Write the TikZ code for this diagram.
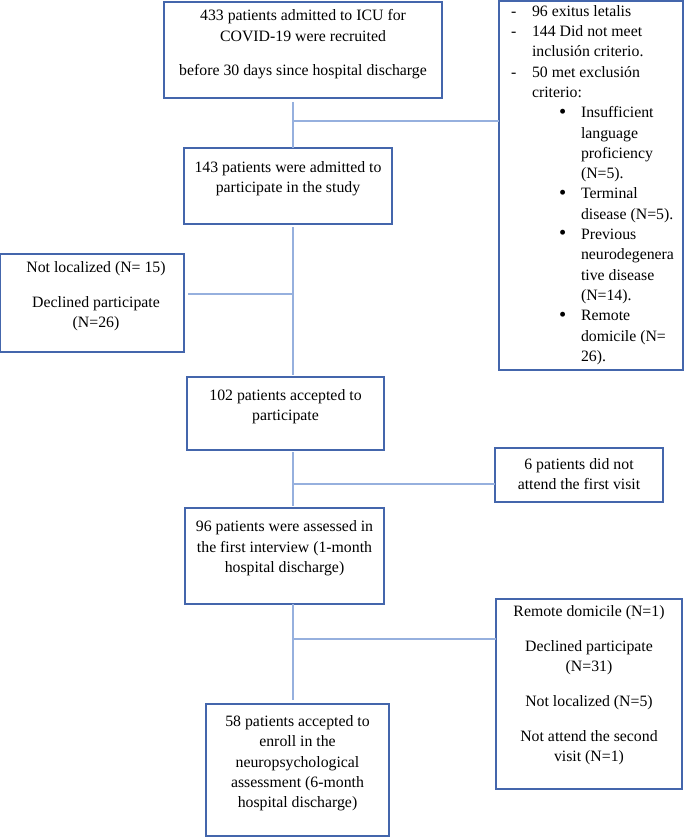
\documentclass[tikz,border=0pt]{standalone}
\usepackage{fontspec}
\setmainfont{Liberation Serif}
\usepackage{graphicx}
\usepackage{tikz}
\usetikzlibrary{calc, fit, positioning}

\definecolor{boxblue}{RGB}{68,102,172}
\definecolor{lineblue}{RGB}{150,176,222}

\newcommand{\itemdot}{\makebox[22pt][l]{\raisebox{-0.4pt}{\scalebox{1.3}{\textbullet}}}}

\begin{document}
\begin{tikzpicture}[x=1pt, y=-1pt, font=\fontsize{15.8}{20.3}\selectfont]
\tikzset{every node/.style={inner sep=0mm, outer sep=0mm}}

\tikzstyle{box}=[draw=boxblue, line width=1.2pt, rectangle]
\tikzstyle{txt}=[align=center]
\tikzstyle{link}=[draw=lineblue, line width=1.1pt]

\useasboundingbox (0,0) rectangle (685,837);

% main column
\node[box, fit={(164,2) (442,98)}] (start) {};
\node[txt] (start text) at (303,44.5) {433 patients admitted to ICU for\\COVID-19 were recruited\\[14.5pt]before 30 days since hospital discharge};

\node[box, fit={(184,148) (392,224)}] (admit) {};
\node[txt] (admit text) at (288,178.5) {143 patients were admitted to\\participate in the study};

\node[box, fit={(187,377) (384,450)}] (accept) {};
\node[txt] (accept text) at (285.5,407) {102 patients accepted to\\participate};

\node[box, fit={(185,508) (384,604)}] (assess) {};
\node[txt] (assess text) at (284.5,548.5) {96 patients were assessed in\\the first interview (1-month\\hospital discharge)};

\node[box, fit={(206,704) (389,836)}] (enroll) {};
\node[txt] (enroll text) at (297.5,763.5) {58 patients accepted to\\enroll in the\\neuropsychological\\assessment (6-month\\hospital discharge)};

% side boxes
\node[box, fit={(499,1) (683,370)}] (excl) {};
\node[align=left, anchor=west] (excl text) at (511,185) {%
\makebox[21pt][l]{-}96 exitus letalis\\
\makebox[21pt][l]{-}144 Did not meet\\
\hspace*{21pt}inclusión criterio.\\
\makebox[21pt][l]{-}50 met exclusión\\
\hspace*{21pt}criterio:\\
\hspace*{48pt}\itemdot Insufficient\\
\hspace*{70pt}language\\
\hspace*{70pt}proficiency\\
\hspace*{70pt}(N=5).\\
\hspace*{48pt}\itemdot Terminal\\
\hspace*{70pt}disease (N=5).\\
\hspace*{48pt}\itemdot Previous\\
\hspace*{70pt}neurodegenera\\
\hspace*{70pt}tive disease\\
\hspace*{70pt}(N=14).\\
\hspace*{48pt}\itemdot Remote\\
\hspace*{70pt}domicile (N=\\
\hspace*{70pt}26).};

\node[box, fit={(0.8,254) (184,352)}] (lost) {};
\node[txt] (lost text) at (96,296) {Not localized (N= 15)\\[14.5pt]Declined participate\\(N=26)};

\node[box, fit={(495,448) (663,502)}] (nofirst) {};
\node[txt] (nofirst text) at (579,474) {6 patients did not\\attend the first visit};

\node[box, fit={(496,599) (682,789)}] (drop) {};
\node[txt] (drop text) at (589,685.5) {Remote domicile (N=1)\\[14.5pt]Declined participate\\(N=31)\\[14.5pt]Not localized (N=5)\\[14.5pt]Not attend the second\\visit (N=1)};

% trunk and junctions
\coordinate (trunk) at (293,0);
\coordinate (j1) at (293,121);
\coordinate (j2) at (293,294);
\coordinate (j3) at (293,484);
\coordinate (j4) at (293,639);

\path[link, shorten <=4pt] (start.south -| trunk) edge (admit.north -| trunk);
\path[link, shorten <=3pt, shorten >=2pt] (admit.south -| trunk) edge (accept.north -| trunk);
\path[link, shorten <=2pt, shorten >=2pt] (accept.south -| trunk) edge (assess.north -| trunk);
\path[link, shorten >=4pt] (assess.south -| trunk) edge (enroll.north -| trunk);

\path[link] (j1) edge (excl.west |- j1);
\path[link, shorten >=4pt] (j2) edge (lost.east |- j2);
\path[link] (j3) edge (nofirst.west |- j3);
\path[link] (j4) edge (drop.west |- j4);

\end{tikzpicture}
\end{document}
